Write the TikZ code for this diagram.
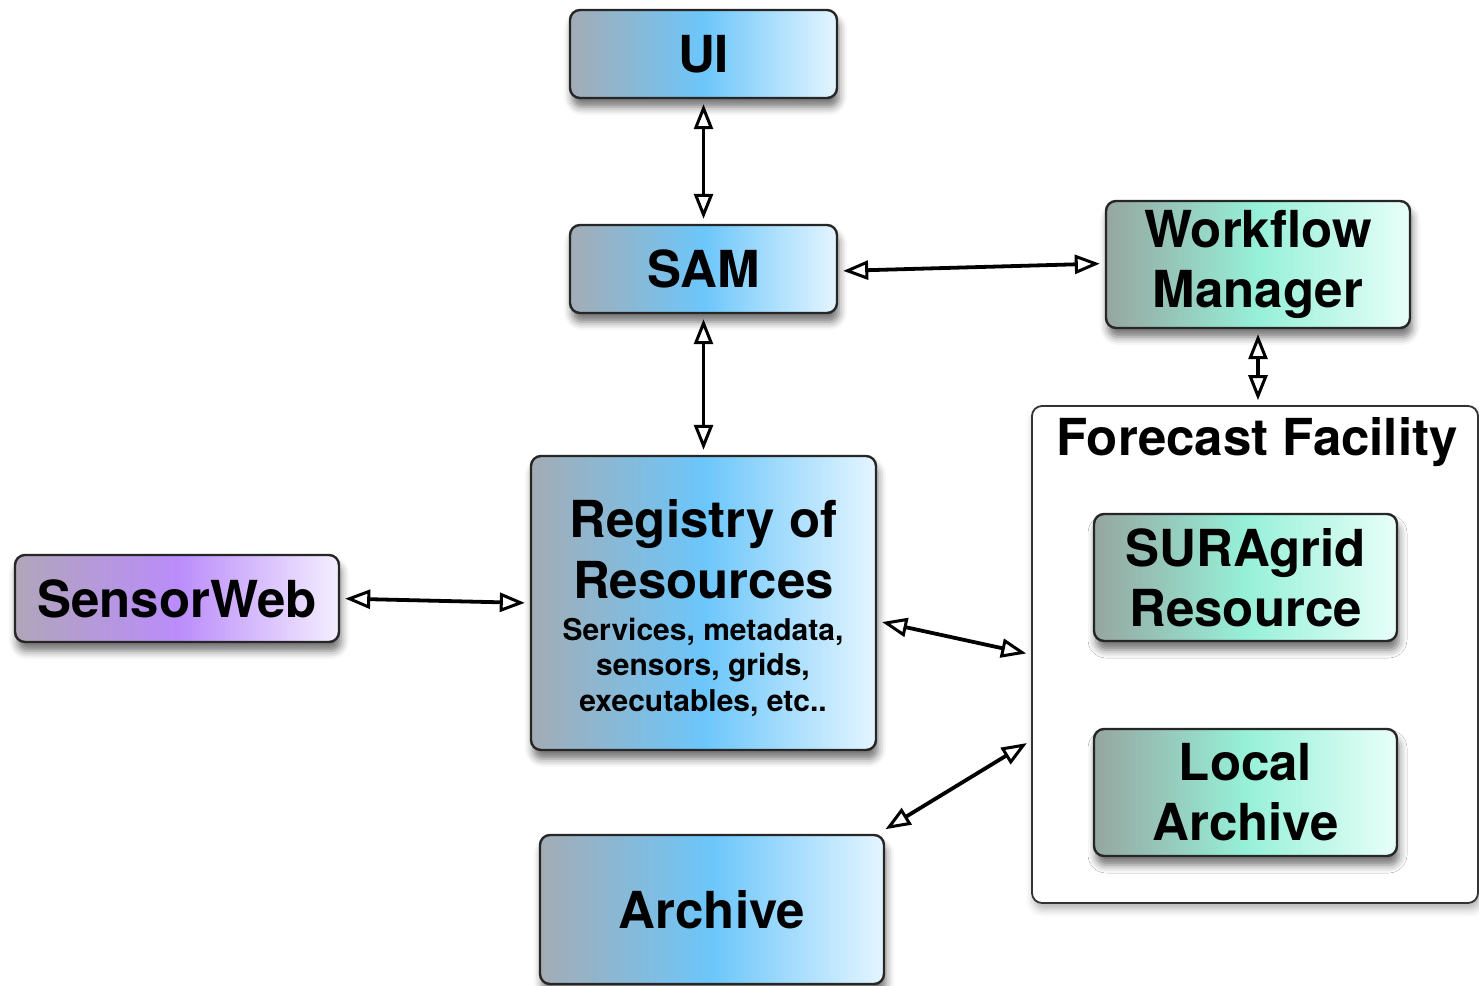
\documentclass[tikz,border=0pt]{standalone}
\usepackage{fontspec}
\setmainfont{TeX Gyre Heros}
\usetikzlibrary{arrows.meta,shadows.blur}

\definecolor{blueL}{RGB}{163,172,181}
\definecolor{blueM}{RGB}{108,198,250}
\definecolor{blueR}{RGB}{228,245,255}
\definecolor{greenL}{RGB}{150,166,160}
\definecolor{greenM}{RGB}{150,240,216}
\definecolor{greenR}{RGB}{232,255,248}
\definecolor{purpL}{RGB}{176,166,186}
\definecolor{purpM}{RGB}{186,140,250}
\definecolor{purpR}{RGB}{244,238,255}

\tikzset{
  bigfont/.style={font=\bfseries\fontsize{25.5}{30}\selectfont},
  smallfont/.style={font=\bfseries\fontsize{15}{18}\selectfont},
  box/.style={draw=black!85, line width=1.2pt, rounded corners=5pt,
    align=center, inner sep=0pt, bigfont,
    blur shadow={shadow xshift=1pt, shadow yshift=-4.5pt,
      shadow blur radius=4pt, shadow opacity=55}},
  bluebox/.style={box, left color=blueL, right color=blueR, middle color=blueM},
  greenbox/.style={box, left color=greenL, right color=greenR, middle color=greenM},
  purplebox/.style={box, left color=purpL, right color=purpR, middle color=purpM},
  facility/.style={draw=black!80, line width=0.9pt, rounded corners=5pt,
    fill=white, inner sep=0pt,
    blur shadow={shadow xshift=1pt, shadow yshift=-3pt,
      shadow blur radius=4pt, shadow opacity=30}},
  tip/.tip={Triangle[open, length=12.5pt, width=9.5pt, line width=1.5pt]},
  link/.style={tip-tip, line width=1.9pt, black, shorten >=2.5pt, shorten <=2.5pt},
  textline/.style={anchor=base, inner sep=0pt}
}

\begin{document}
\begin{tikzpicture}[x=0.5pt, y=-0.5pt]
  \useasboundingbox (0,0) rectangle (1479,986);

  % outer forecast facility frame
  \node[facility, minimum width=223pt, minimum height=248.5pt] (ff) at (1255,654.5) {};
  \node[textline, bigfont] (fftitle) at (1257,455) {Forecast Facility};

  % boxes
  \node[bluebox, minimum width=133.5pt, minimum height=44pt] (ui) at (703.5,54) {UI};
  \node[bluebox, minimum width=133.5pt, minimum height=44pt] (sam) at (703.5,269) {SAM};
  \node[greenbox, minimum width=152pt, minimum height=63.5pt] (wf) at (1258,264.5) {Workflow\\Manager};
  \node[greenbox, minimum width=151.5pt, minimum height=63.5pt] (sura) at (1245.5,577.5) {SURAgrid\\Resource};
  \node[greenbox, minimum width=151.5pt, minimum height=63.5pt] (local) at (1245.5,792.5) {Local\\Archive};
  \node[purplebox, minimum width=162pt, minimum height=43.5pt] (sw) at (177,598.5) {SensorWeb};
  \node[bluebox, minimum width=172pt, minimum height=74.5pt] (arch) at (712,909.5) {Archive};

  % registry box and its lines of text
  \node[bluebox, minimum width=172.5pt, minimum height=147pt] (reg) at (703.5,603) {};
  \node[textline, bigfont] (reg1) at (703.5,537) {Registry of};
  \node[textline, bigfont] (reg2) at (703.5,598) {Resources};
  \node[textline, smallfont] (reg3) at (703,640) {Services, metadata,};
  \node[textline, smallfont] (reg4) at (703,675) {sensors, grids,};
  \node[textline, smallfont] (reg5) at (703,711) {executables, etc..};

  % connectors
  \draw[link] (ui.south) -- (sam.north);
  \draw[link] ([yshift=-1pt]sam.east) -- ([yshift=0.5pt]wf.west);
  \draw[link] (sam.south) -- (reg.north);
  \draw[link] (wf.south) -- (ff.north -| wf.south);
  \draw[link] (sw.east) -- (reg.west);
  \draw[link] ([yshift=-9pt]reg.east) -- (ff.west);
  \draw[link] ([xshift=-2pt,yshift=1pt]arch.north east) -- ([yshift=-43pt]ff.west);
\end{tikzpicture}
\end{document}
